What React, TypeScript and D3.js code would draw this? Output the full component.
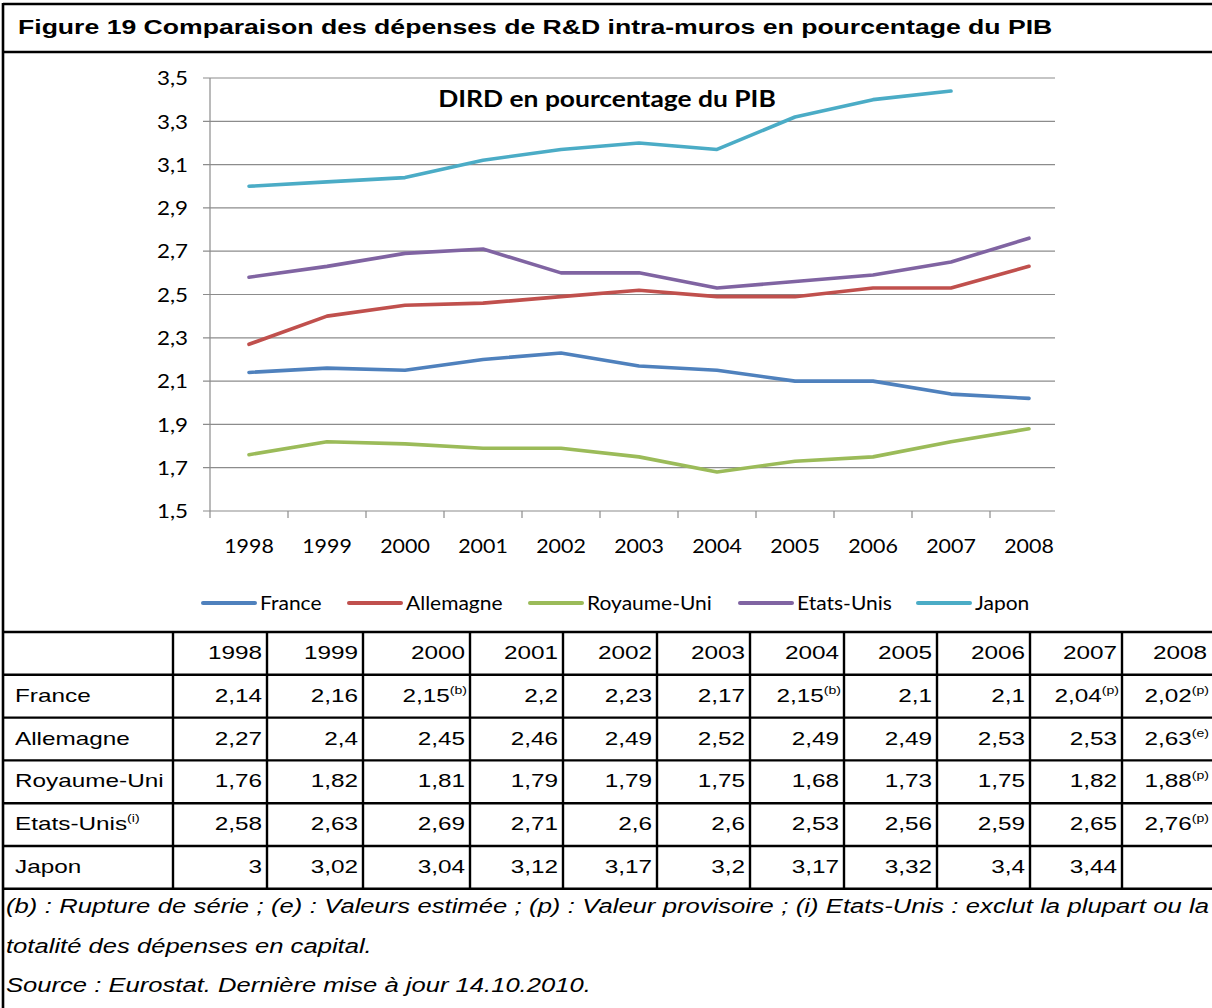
import * as d3 from "d3"
import { useLayoutEffect, useRef } from "react"
import type { ReactNode } from "react"

const years = ["1998", "1999", "2000", "2001", "2002", "2003", "2004", "2005", "2006", "2007", "2008"]

const france = [2.14, 2.16, 2.15, 2.2, 2.23, 2.17, 2.15, 2.1, 2.1, 2.04, 2.02]
const allemagne = [2.27, 2.4, 2.45, 2.46, 2.49, 2.52, 2.49, 2.49, 2.53, 2.53, 2.63]
const royaumeUni = [1.76, 1.82, 1.81, 1.79, 1.79, 1.75, 1.68, 1.73, 1.75, 1.82, 1.88]
const etatsUnis = [2.58, 2.63, 2.69, 2.71, 2.6, 2.6, 2.53, 2.56, 2.59, 2.65, 2.76]
const japon = [3, 3.02, 3.04, 3.12, 3.17, 3.2, 3.17, 3.32, 3.4, 3.44, null]

// notes shown as superscripts in the table
const franceNotes = ["", "", "(b)", "", "", "", "(b)", "", "", "(p)", "(p)"]
const allemagneNotes = ["", "", "", "", "", "", "", "", "", "", "(e)"]
const royaumeUniNotes = ["", "", "", "", "", "", "", "", "", "", "(p)"]
const etatsUnisNotes = ["", "", "", "", "", "", "", "", "", "", "(p)"]
const japonNotes = ["", "", "", "", "", "", "", "", "", "", ""]

const yTicks = [1.5, 1.7, 1.9, 2.1, 2.3, 2.5, 2.7, 2.9, 3.1, 3.3, 3.5]

const series = [
  { id: "France", label: "France", sup: "", values: france, notes: franceNotes, color: "#4f81bd" },
  { id: "Allemagne", label: "Allemagne", sup: "", values: allemagne, notes: allemagneNotes, color: "#c0504d" },
  { id: "Royaume-Uni", label: "Royaume-Uni", sup: "", values: royaumeUni, notes: royaumeUniNotes, color: "#9bbb59" },
  { id: "Etats-Unis", label: "Etats-Unis", sup: "(i)", values: etatsUnis, notes: etatsUnisNotes, color: "#8064a2" },
  { id: "Japon", label: "Japon", sup: "", values: japon, notes: japonNotes, color: "#4bacc6" },
]

const footnote1 =
  "(b) : Rupture de série ; (e) : Valeurs estimée ; (p) : Valeur provisoire ; (i) Etats-Unis : exclut la plupart ou la"
const footnote2 = "totalité des dépenses en capital."
const footnote3 = "Source : Eurostat. Dernière mise à jour 14.10.2010."

const W = 1212
const H = 1008
const plotL = 210
const plotR = 1068
const gridR = 1055
const plotT = 78
const plotB = 511

// table layout
const colEdges = [3, 173, 267, 363, 470, 563, 657, 750, 844, 937, 1030, 1122, 1212]
const rowTop = 632
const rowH = 42.8

const legendX = [203, 349, 530, 740, 918]

// the source picture is stretched horizontally
const SX = 1.28

const tableFont = "'Liberation Sans', Arial, sans-serif"
const chartFont = "Lato, 'Open Sans', sans-serif"

const fmt = (v: number) => String(v).replace(".", ",")

function T({
  x,
  y,
  sx = SX,
  anchor = "start",
  children,
  ...rest
}: {
  x: number
  y: number
  sx?: number
  anchor?: string
  children: ReactNode
  [k: string]: unknown
}) {
  return (
    <text transform={`translate(${x},${y}) scale(${sx},1)`} textAnchor={anchor} {...rest}>
      {children}
    </text>
  )
}

function Justified({ x, y, width, text }: { x: number; y: number; width: number; text: string }) {
  const ref = useRef<SVGTextElement>(null)
  useLayoutEffect(() => {
    const el = ref.current
    if (!el) return
    el.removeAttribute("word-spacing")
    const len = el.getComputedTextLength()
    const gaps = text.split(" ").length - 1
    const extra = (width / SX - len) / gaps
    d3.select(el).attr("word-spacing", Math.max(0, extra))
  }, [text, width])
  return (
    <text ref={ref} transform={`translate(${x},${y}) scale(${SX},1)`}>
      {text}
    </text>
  )
}

export default function App() {
  const x = d3.scaleBand<string>().domain(years).range([plotL, plotR])
  const y = d3.scaleLinear().domain([1.5, 3.5]).range([plotB, plotT])
  const cx = (yr: string) => (x(yr) || 0) + x.bandwidth() / 2

  const line = d3
    .line<number | null>()
    .defined((d) => d !== null)
    .x((_, i) => cx(years[i]))
    .y((d) => y(d as number))

  const rows = ["header", ...series.map((s) => s.id)]
  const tableBottom = rowTop + rows.length * rowH

  return (
    <div style={{ position: "absolute", left: 0, top: 0 }}>
      <svg width={W} height={H} viewBox={`0 0 ${W} ${H}`} style={{ display: "block", background: "#fff" }}>
        {/* title */}
        <T x={18} y={34} sx={1.267} fontFamily={tableFont} fontWeight={700} fontSize={21} fill="#000">
          Figure 19 Comparaison des dépenses de R&amp;D intra-muros en pourcentage du PIB
        </T>

        {/* gridlines */}
        {yTicks.map((t) => (
          <g key={t}>
            <line x1={plotL - 7} x2={gridR} y1={y(t)} y2={y(t)} stroke="#8c8c8c" strokeWidth={1.2} />
            <T x={188} y={y(t)} sx={1.12} dy="0.36em" anchor="end" fontFamily={chartFont} fontSize={20} fill="#000">
              {t.toFixed(1).replace(".", ",")}
            </T>
          </g>
        ))}
        <line x1={plotL} x2={plotL} y1={plotT} y2={plotB} stroke="#8c8c8c" strokeWidth={1.2} />
        {years.map((yr) => (
          <line key={yr} x1={x(yr)} x2={x(yr)} y1={plotB} y2={plotB + 7} stroke="#8c8c8c" strokeWidth={1.2} />
        ))}
        {years.map((yr) => (
          <T key={yr} x={cx(yr)} y={553} sx={1.07} anchor="middle" fontFamily={chartFont} fontSize={20} fill="#000">
            {yr}
          </T>
        ))}

        <T x={607} y={107} sx={1.2} anchor="middle" fontFamily={chartFont} fontWeight={700} fontSize={22} fill="#000">
          DIRD en pourcentage du PIB
        </T>

        {series.map((s) => (
          <path
            key={s.id}
            d={line(s.values) || ""}
            fill="none"
            stroke={s.color}
            strokeWidth={3.6}
            strokeLinejoin="round"
            strokeLinecap="round"
          />
        ))}

        {/* legend */}
        {series.map((s, i) => (
          <g key={s.id} transform={`translate(${legendX[i]},603)`}>
            <line x1={0} x2={52} y1={0} y2={0} stroke={s.color} strokeWidth={4} strokeLinecap="round" />
            <T x={57} y={7} sx={1.05} fontFamily={chartFont} fontSize={20} fill="#000">
              {s.label}
            </T>
          </g>
        ))}

        {/* table */}
        {rows.map((r, ri) => {
          const top = rowTop + ri * rowH
          const base = top + 27
          const s = series.find((d) => d.id === r)
          return (
            <g key={r} fontFamily={tableFont} fontSize={19} fill="#000">
              {s && (
                <T x={15} y={base}>
                  {s.label}
                  {s.sup && (
                    <tspan fontSize={11} dy={-8}>
                      {s.sup}
                    </tspan>
                  )}
                </T>
              )}
              {years.map((yr, ci) => {
                const right = colEdges[ci + 2] - 5
                if (!s) {
                  return (
                    <T key={yr} x={right} y={base} anchor="end">
                      {yr}
                    </T>
                  )
                }
                const v = s.values[ci]
                if (v === null) return null
                const note = s.notes[ci]
                return (
                  <T key={yr} x={note ? right + 2 : right} y={base} anchor="end">
                    {fmt(v)}
                    {note && (
                      <tspan fontSize={11} dy={-8}>
                        {note}
                      </tspan>
                    )}
                  </T>
                )
              })}
            </g>
          )
        })}

        {/* table grid */}
        {d3.range(rows.length + 1).map((i) => (
          <line
            key={`h${i}`}
            x1={3}
            x2={W}
            y1={rowTop + i * rowH}
            y2={rowTop + i * rowH}
            stroke="#000"
            strokeWidth={2.4}
          />
        ))}
        {colEdges.slice(1, -1).map((cxE) => (
          <line key={`v${cxE}`} x1={cxE} x2={cxE} y1={rowTop} y2={tableBottom} stroke="#000" strokeWidth={2.4} />
        ))}

        {/* frame */}
        <line x1={3} x2={W} y1={4} y2={4} stroke="#000" strokeWidth={2.6} />
        <line x1={3} x2={W} y1={52} y2={52} stroke="#000" strokeWidth={2.6} />
        <line x1={3} x2={3} y1={3} y2={H} stroke="#000" strokeWidth={2.6} />

        {/* footnotes */}
        <g fontFamily={tableFont} fontStyle="italic" fontSize={20} fill="#000">
          <Justified x={6} y={913} width={1203} text={footnote1} />
          <T x={6} y={953}>
            {footnote2}
          </T>
          <T x={6} y={992}>
            {footnote3}
          </T>
        </g>
      </svg>
    </div>
  )
}
